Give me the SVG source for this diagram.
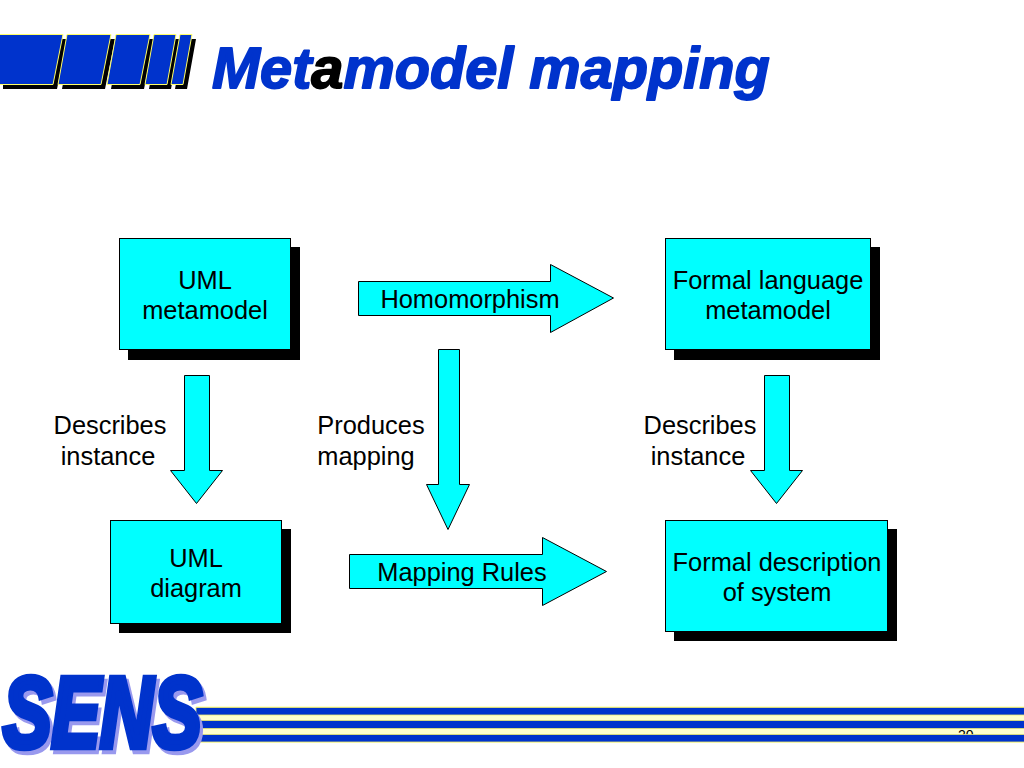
<svg xmlns="http://www.w3.org/2000/svg" width="1024" height="768" viewBox="0 0 1024 768">
<defs>
<filter id="sensShadow" x="-5%" y="-5%" width="115%" height="115%" color-interpolation-filters="sRGB"><feFlood flood-color="#9999ee"/><feComposite in2="SourceAlpha" operator="in"/><feOffset dx="4" dy="4"/><feMerge><feMergeNode/><feMergeNode in="SourceGraphic"/></feMerge></filter>
<style>
text{font-family:"Liberation Sans",Arial,sans-serif}
.l{font-size:25.4px;fill:#000;text-anchor:middle}
.box{fill:#00ffff;stroke:#000;stroke-width:1}
.sh{fill:#000}
.ar{fill:#00ffff;stroke:#000;stroke-width:1}
.bk{fill:#0033cc;stroke:#ffff66;stroke-width:1}
.bs{fill:#000}
.st{fill:#0033cc;stroke:#e8e870;stroke-width:.8}
.sens{font-size:90px;font-weight:bold;font-style:italic;stroke-width:6px;stroke-linejoin:miter}
</style></defs>
<rect width="1024" height="768" fill="#fff"/>
<g id="title-blocks">
<path class="bs" transform="translate(4,4.500)" d="M-1 34.500H63L53 84.500H-1ZM67 34.500H111L101 84.500H58ZM116 34.500H150L140 84.500H107ZM154 34.500H176L167 84.500H145ZM180 34.500H192L183 84.500H171Z"/>
<path class="bk" d="M-1 34.500H63L53 84.500H-1ZM67 34.500H111L101 84.500H58ZM116 34.500H150L140 84.500H107ZM154 34.500H176L167 84.500H145ZM180 34.500H192L183 84.500H171Z"/>
</g>
<g id="title"><text x="212" y="87.500" font-size="57.700" font-weight="bold" font-style="italic" fill="#0033cc" stroke="#0033cc" stroke-width="1.800" stroke-linejoin="round">Met<tspan fill="#000" stroke="#000">a</tspan>model mapping</text></g>
<g id="footer">
<rect x="196" y="706" width="828" height="37" fill="#ffffcc"/>
<text x="958" y="739.500" font-size="14" fill="#000">20</text>
<rect x="196" y="707.500" width="829" height="7.500" class="st"/>
<rect x="196" y="720.500" width="829" height="8" class="st"/>
<rect x="196" y="734.500" width="829" height="7.500" class="st"/>
<text class="sens" transform="translate(3,746.500) scale(0.81,1.12)" fill="#0033cc" stroke="#0033cc" filter="url(#sensShadow)">SENS</text>
</g>
<g id="connectors">
<path id="homomorphism" class="ar" d="M358.500 281.500H550.500V264.500L613.500 298L550.500 332.500V315.500H358.500Z"/>
<text class="l" x="470" y="308">Homomorphism</text>
<path id="mapping-rules" class="ar" d="M349.500 554.500H542.500V537.500L606.500 571.500L542.500 605.500V588.500H349.500Z"/>
<text class="l" x="462" y="581">Mapping Rules</text>
<path id="describes-left" class="ar" d="M184.500 375.500H209.500V470.500H222.500L196.500 503.500L170.500 470.500H184.500Z"/>
<path id="produces" class="ar" d="M438.500 349.500H459.500V484.500H469.500L448 529.500L426.500 484.500H438.500Z"/>
<path id="describes-right" class="ar" d="M764.500 375.500H789.500V470.500H802.500L776.500 503.500L750.500 470.500H764.500Z"/>
</g>
<g id="uml-metamodel"><rect class="sh" x="128" y="247" width="172" height="113"/><rect class="box" x="119.500" y="238.500" width="171" height="111"/>
<text class="l" x="205" y="288.500">UML</text><text class="l" x="205" y="319">metamodel</text></g>
<g id="formal-language"><rect class="sh" x="674" y="247" width="206" height="113"/><rect class="box" x="665.500" y="238.500" width="205" height="111"/>
<text class="l" x="768" y="288.500">Formal language</text><text class="l" x="768" y="319">metamodel</text></g>
<g id="uml-diagram"><rect class="sh" x="119" y="529" width="172" height="104"/><rect class="box" x="110.500" y="520.500" width="171" height="103"/>
<text class="l" x="196" y="566.500">UML</text><text class="l" x="196" y="596.500">diagram</text></g>
<g id="formal-description"><rect class="sh" x="674" y="529" width="223" height="112"/><rect class="box" x="665.500" y="520.500" width="222" height="111"/>
<text class="l" x="777" y="571">Formal description</text><text class="l" x="777" y="601">of system</text></g>
<g id="labels">
<text class="l" x="110" y="433.500">Describes</text><text class="l" x="108" y="464.500">instance</text>
<text class="l" x="371" y="433.500">Produces</text><text class="l" x="366" y="464.500">mapping</text>
<text class="l" x="700" y="433.500">Describes</text><text class="l" x="698" y="464.500">instance</text>
</g>
</svg>
